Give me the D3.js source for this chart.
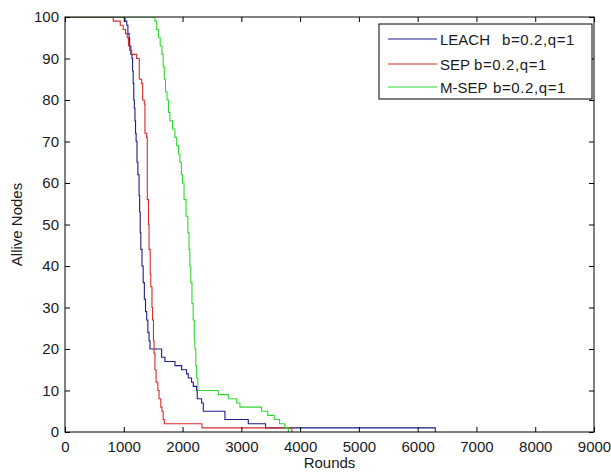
<!DOCTYPE html>
<html>
<head>
<meta charset="utf-8">
<script src="https://cdn.jsdelivr.net/npm/d3@7"></script>
<style>
html,body{margin:0;padding:0;background:#fff;}
svg{display:block;}
text{font-family:"Liberation Sans",Arial,sans-serif;fill:#1a1a1a;}
</style>
</head>
<body>
<svg id="chart" width="611" height="473"></svg>
<script>
// ---- data (round at which alive count changes, alive nodes) ----
const leachRounds = [0,1020,1050,1070,1090,1100,1120,1140,1150,1160,1170,1180,1190,1200,1210,1225,1240,1260,1270,1280,1290,1310,1330,1350,1370,1390,1410,1430,1446,1644,1700,1871,1984,2069,2098,2154,2183,2239,2250,2324,2353,2721,3118,3413,6300];
const leachAlive  = [100,99,98,96,95,93,91,90,87,84,80,78,75,72,70,65,62,57,53,48,44,40,36,32,29,27,24,22,20,18,17,16,15,14,13,12,11,10,8,7,5,3,2,1,0];

const sepRounds = [0,820,940,990,1030,1060,1080,1100,1134,1219,1264,1304,1321,1349,1360,1389,1400,1420,1430,1450,1460,1480,1490,1505,1515,1530,1550,1580,1600,1630,1650,1670,1690,2330,3860];
const sepAlive  = [100,99,98,97,96,95,93,92,91,90,85,84,80,79,72,71,56,50,44,38,35,30,27,22,19,15,12,10,8,6,5,3,2,1,0];

const msepRounds = [0,1530,1560,1590,1620,1650,1670,1690,1710,1735,1760,1785,1830,1870,1900,1930,1955,1980,2000,2025,2060,2090,2110,2125,2140,2160,2180,2200,2210,2225,2240,2260,2608,2778,2920,2976,3345,3450,3560,3650,3740,3800];
const msepAlive  = [100,99,97,95,93,91,88,85,82,80,77,75,73,71,69,67,65,62,60,56,52,48,44,40,36,31,27,22,20,16,13,10,9,8,7,6,5,4,3,2,1,0];

const seriesNames = ["LEACH","SEP","M-SEP"];
const seriesParams = ["b=0.2,q=1","b=0.2,q=1","b=0.2,q=1"];
const seriesColors = ["#1c1c8a","#d92a2a","#2fd82f"];
const xTicks = [0,1000,2000,3000,4000,5000,6000,7000,8000,9000];
const yTicks = [0,10,20,30,40,50,60,70,80,90,100];
const xLabel = "Rounds";
const yLabel = "Allive Nodes";

// ---- layout ----
const pL = 65, pR = 594, pT = 17, pB = 432;
const svg = d3.select("#chart");
const x = d3.scaleLinear().domain([0,9000]).range([pL,pR]);
const y = d3.scaleLinear().domain([0,100]).range([pB,pT]);

svg.append("defs").append("clipPath").attr("id","clip")
  .append("rect").attr("x",pL).attr("y",pT).attr("width",pR-pL).attr("height",pB-pT);

const series = [
  {rounds:leachRounds, alive:leachAlive},
  {rounds:sepRounds, alive:sepAlive},
  {rounds:msepRounds, alive:msepAlive}
];

const line = d3.line().x(d=>x(d[0])).y(d=>y(d[1])).curve(d3.curveStepAfter);
const g = svg.append("g").attr("clip-path","url(#clip)");
series.forEach((s,i)=>{
  const pts = s.rounds.map((r,j)=>[r,s.alive[j]]);
  g.append("path").attr("d",line(pts)).attr("fill","none")
    .attr("stroke",seriesColors[i]).attr("stroke-width",1.1);
});

// axes
const fs = 15;
const axB = svg.append("g").attr("transform",`translate(0,${pB})`)
  .call(d3.axisBottom(x).tickValues(xTicks).tickSize(-5).tickPadding(9).tickFormat(d3.format("d")));
const axT = svg.append("g").attr("transform",`translate(0,${pT})`)
  .call(d3.axisTop(x).tickValues(xTicks).tickSize(-5).tickFormat(""));
const axL = svg.append("g").attr("transform",`translate(${pL},0)`)
  .call(d3.axisLeft(y).tickValues(yTicks).tickSize(-5).tickPadding(6).tickFormat(d3.format("d")));
const axR = svg.append("g").attr("transform",`translate(${pR},0)`)
  .call(d3.axisRight(y).tickValues(yTicks).tickSize(-5).tickFormat(""));
[axB,axT,axL,axR].forEach(a=>{
  a.select(".domain").remove();
  a.selectAll("line").attr("stroke","#000");
  a.selectAll("text").attr("font-size",fs).attr("font-family","Liberation Sans, Arial, sans-serif").attr("fill","#1a1a1a");
});
svg.append("rect").attr("x",pL).attr("y",pT).attr("width",pR-pL).attr("height",pB-pT)
  .attr("fill","none").attr("stroke","#000").attr("stroke-width",1);

// labels
svg.append("text").attr("x",(pL+pR)/2).attr("y",468).attr("text-anchor","middle")
  .attr("font-size",fs).text(xLabel);
svg.append("text").attr("transform",`translate(22,${(pT+pB)/2}) rotate(-90)`)
  .attr("text-anchor","middle").attr("font-size",fs).text(yLabel);

// legend
const lg = svg.append("g");
lg.append("rect").attr("x",379).attr("y",24).attr("width",213).attr("height",75)
  .attr("fill","#fff").attr("stroke","#000").attr("stroke-width",1);
const rowY = [39,64,87];
const paramX = [502,474,493];
seriesNames.forEach((n,i)=>{
  lg.append("line").attr("x1",388).attr("x2",437).attr("y1",rowY[i]).attr("y2",rowY[i])
    .attr("stroke",seriesColors[i]).attr("stroke-width",1.1);
  lg.append("text").attr("x",440).attr("y",rowY[i]+5.5).attr("font-size",fs).text(n);
  lg.append("text").attr("x",paramX[i]).attr("y",rowY[i]+5.5).attr("font-size",fs)
    .attr("letter-spacing",0.6).text(seriesParams[i]);
});
</script>
</body>
</html>
